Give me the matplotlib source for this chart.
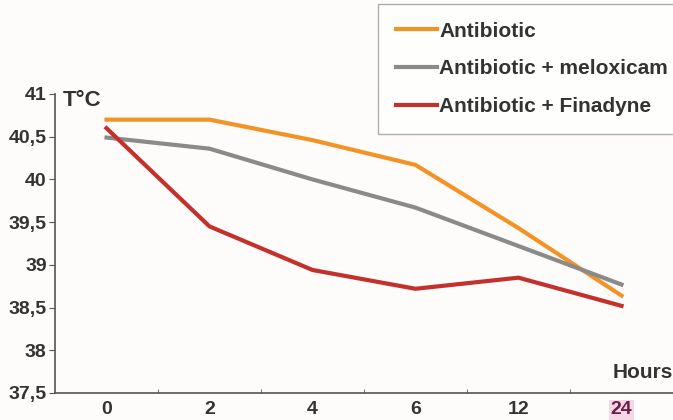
import matplotlib
matplotlib.use("Agg")
import matplotlib.pyplot as plt
from matplotlib import font_manager

hours = ["0", "2", "4", "6", "12", "24"]
antibiotic = [40.70, 40.70, 40.46, 40.17, 39.43, 38.64]
meloxicam = [40.49, 40.36, 40.00, 39.67, 39.22, 38.77]
finadyne = [40.60, 39.45, 38.94, 38.72, 38.85, 38.52]
yticks = [37.5, 38, 38.5, 39, 39.5, 40, 40.5, 41]
ylabels = ["37,5", "38", "38,5", "39", "39,5", "40", "40,5", "41"]

names = [f.name for f in font_manager.fontManager.ttflist]
fam = ["Liberation Sans Narrow", "DejaVu Sans"] if "Liberation Sans Narrow" in names else ["Liberation Sans", "DejaVu Sans"]
plt.rcParams['font.family'] = fam

txt = "#333333"
fig = plt.figure(figsize=(6.73, 4.2), dpi=100, facecolor="#fdfcfa")
ax = fig.add_axes([55/673, 1-393/420, 1-55/673, (393-94)/420])
ax.set_facecolor("#fdfcfa")

x = list(range(len(hours)))
ax.plot(x, antibiotic, color="#f39325", lw=3, label="Antibiotic")
ax.plot(x, meloxicam, color="#8a8a8a", lw=3, label="Antibiotic + meloxicam")
ax.plot(x, finadyne, color="#c4302b", lw=3, label="Antibiotic + Finadyne")

ax.set_xlim(-0.5, 5.5)
ax.set_ylim(37.5, 41)
ax.set_yticks(yticks)
ax.set_yticklabels(ylabels, fontsize=14, fontweight="bold", color=txt)
ax.set_xticks(x)
ax.set_xticklabels(hours, fontsize=14, fontweight="bold", color=txt)
ax.get_xticklabels()[-1].set_color("#6a1f4a")
ax.get_xticklabels()[-1].set_bbox(dict(facecolor="#f7d6e6", edgecolor="none", pad=1))
ax.tick_params(axis="x", length=0, pad=6)
ax.set_xticks([i + 0.5 for i in range(5)], minor=True)
ax.tick_params(axis="x", which="minor", length=3, direction="in", color="#555555")
ax.tick_params(axis="y", length=4, direction="out", color="#555555", pad=2)
for s in ["top", "right"]:
    ax.spines[s].set_visible(False)
for s in ["left", "bottom"]:
    ax.spines[s].set_color("#555555")
    ax.spines[s].set_linewidth(1.2)

fig.text(63/673, 1-100/420, "T°C", fontsize=16, fontweight="bold", color=txt, va="center")
fig.text(1.0, 1-372/420, "Hours", fontsize=15, fontweight="bold", color=txt, ha="right", va="center")

leg = ax.legend(loc="upper left", bbox_to_anchor=(378/673, 1-4/420), bbox_transform=fig.transFigure,
                frameon=True, fancybox=False, handlelength=2.0, handletextpad=0.08,
                labelspacing=0.9, borderpad=0.85, borderaxespad=0,
                prop=dict(weight="bold", size=15))
leg.get_frame().set_edgecolor("#999999")
leg.get_frame().set_linewidth(1)
for t in leg.get_texts():
    t.set_color(txt)

fig.savefig("out.png", dpi=100, facecolor=fig.get_facecolor())
